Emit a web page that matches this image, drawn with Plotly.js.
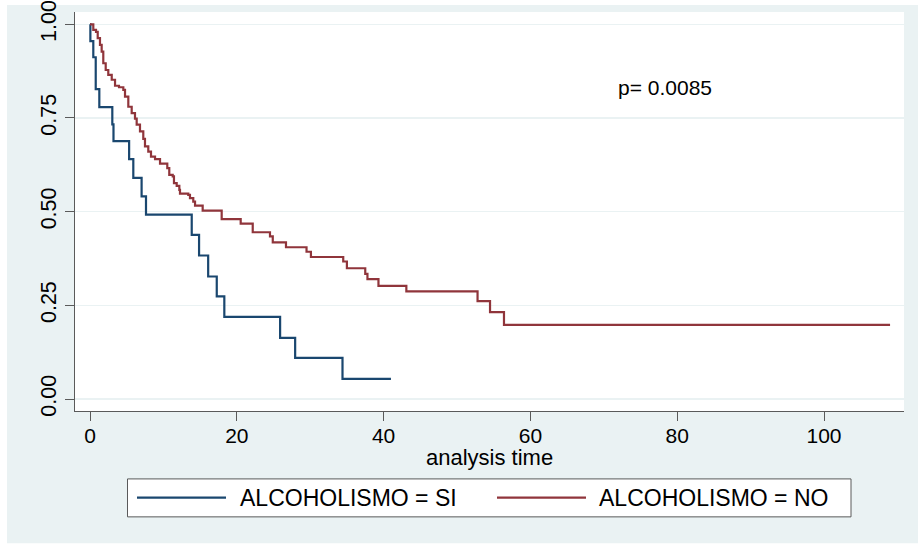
<!DOCTYPE html>
<html>
<head>
<meta charset="utf-8">
<script src="https://cdn.plot.ly/plotly-3.0.1.min.js"></script>
<style>html,body{margin:0;padding:0;background:#fff;}</style>
</head>
<body>
<div id="chart" style="width:918px;height:544px;"></div>
<script>
// Kaplan-Meier estimates
var tSi = [0, 0.05, 0.45, 0.78, 1.27, 3.04, 3.2, 5.33, 5.9, 7.03, 7.63, 13.86, 14.86, 16.1, 17.27, 18.3, 25.9, 27.95, 34.4, 41.0];
var sSi = [1, 0.955, 0.912, 0.827, 0.779, 0.733, 0.688, 0.640, 0.590, 0.541, 0.492, 0.438, 0.383, 0.327, 0.274, 0.219, 0.163, 0.110, 0.054, 0.054];

var tNo = [0, 0.45, 0.82, 1.05, 1.36, 1.59, 1.81, 2.14, 2.49, 2.96, 3.41, 3.95, 4.54, 4.77, 5.22, 5.68, 6.13, 6.36, 6.81, 7.26, 7.49, 7.94, 8.31, 8.86, 9.54, 10.53, 10.80, 11.27, 11.44, 11.81, 12.17, 12.26, 13.39, 13.62, 14.07, 14.31, 15.35, 17.94, 20.53, 22.17, 24.52, 24.9, 26.7, 29.5, 30.1, 34.5, 35.0, 37.5, 37.8, 39.3, 43.1, 52.8, 54.5, 56.4, 109.0];
var sNo = [1, 0.985, 0.980, 0.963, 0.945, 0.927, 0.896, 0.878, 0.865, 0.852, 0.836, 0.832, 0.825, 0.807, 0.780, 0.763, 0.748, 0.732, 0.714, 0.694, 0.674, 0.660, 0.647, 0.640, 0.628, 0.616, 0.598, 0.594, 0.576, 0.569, 0.558, 0.548, 0.545, 0.536, 0.527, 0.516, 0.503, 0.480, 0.468, 0.445, 0.434, 0.418, 0.405, 0.393, 0.379, 0.367, 0.349, 0.334, 0.320, 0.302, 0.287, 0.261, 0.232, 0.198, 0.198];

var seriesNames = ["ALCOHOLISMO = SI", "ALCOHOLISMO = NO"];
var xTickVals = [0, 20, 40, 60, 80, 100];
var xTickText = ["0", "20", "40", "60", "80", "100"];
var yTickVals = [0, 0.25, 0.5, 0.75, 1];
var yTickText = ["0.00", "0.25", "0.50", "0.75", "1.00"];
var pText = "p= 0.0085";
var xTitle = "analysis time";

var W = 918, H = 544;
var L = 75, R = 904, T = 12, B = 411.5;
function px(x) { return (x - L) / (R - L); }
function py(y) { return (B - y) / (B - T); }

var blue = "#1a476f", red = "#90353b", bg = "#eaf2f3", axc = "#5a5a5a";
var FONT = "Liberation Sans, Arial, sans-serif";

var traces = [
  {x: tSi, y: sSi, type: "scatter", mode: "lines", name: seriesNames[0],
   line: {color: blue, width: 2.2, shape: "hv"}, hoverinfo: "skip"},
  {x: tNo, y: sNo, type: "scatter", mode: "lines", name: seriesNames[1],
   line: {color: red, width: 2.2, shape: "hv"}, hoverinfo: "skip"}
];

var shapes = [
  {type: "rect", xref: "paper", yref: "paper", layer: "below",
   x0: px(7), x1: px(W), y0: py(H), y1: py(5), fillcolor: bg, line: {width: 0}},
  {type: "rect", xref: "paper", yref: "paper", layer: "below",
   x0: 0, x1: 1, y0: 0, y1: 1, fillcolor: "#ffffff", line: {width: 0}},
  {type: "rect", xref: "paper", yref: "paper",
   x0: px(127.5), x1: px(851), y0: py(517.5), y1: py(479.5),
   fillcolor: "#ffffff", line: {color: axc, width: 1}},
  {type: "line", xref: "paper", yref: "paper",
   x0: px(137), x1: px(226), y0: py(498.3), y1: py(498.3), line: {color: blue, width: 2.2}},
  {type: "line", xref: "paper", yref: "paper",
   x0: px(497), x1: px(586), y0: py(498.3), y1: py(498.3), line: {color: red, width: 2.2}}
];

var annotations = [
  {xref: "x", yref: "y", x: 78.3, y: 0.83, text: pText, showarrow: false,
   font: {family: FONT, size: 21, color: "#000"}, xanchor: "center", yanchor: "middle"},
  {xref: "paper", yref: "paper", x: 0.5, y: py(458), text: xTitle, showarrow: false,
   font: {family: FONT, size: 22, color: "#000"}, xanchor: "center", yanchor: "middle"},
  {xref: "paper", yref: "paper", x: px(238), y: py(498.5), text: seriesNames[0], showarrow: false,
   font: {family: FONT, size: 23, color: "#000"}, xanchor: "left", yanchor: "middle"},
  {xref: "paper", yref: "paper", x: px(597), y: py(498.5), text: seriesNames[1], showarrow: false,
   font: {family: FONT, size: 23, color: "#000"}, xanchor: "left", yanchor: "middle"}
];

var layout = {
  width: W, height: H,
  margin: {l: L, r: W - R, t: T, b: H - B, pad: 0},
  paper_bgcolor: "#ffffff",
  plot_bgcolor: "#ffffff",
  showlegend: false,
  font: {family: FONT, color: "#000"},
  xaxis: {
    range: [(L - 90) / 7.34, (R - 90) / 7.34],
    tickvals: xTickVals, ticktext: xTickText,
    ticks: "outside", ticklen: 9, tickcolor: axc, tickwidth: 1,
    ticklabelstandoff: -3,
    showline: true, linecolor: axc, linewidth: 1,
    showgrid: false, zeroline: false,
    tickfont: {family: FONT, size: 21, color: "#000"},
    automargin: false
  },
  yaxis: {
    range: [-(B - 399.5) / 375.2, 1 + (24.3 - T) / 375.2],
    tickvals: yTickVals, ticktext: yTickText,
    ticks: "outside", ticklen: 9, tickcolor: axc, tickwidth: 1,
    tickangle: -90,
    showline: true, linecolor: axc, linewidth: 1,
    showgrid: true, gridcolor: bg, gridwidth: 1.5,
    zeroline: false,
    tickfont: {family: FONT, size: 21.5, color: "#000"},
    automargin: false
  },
  shapes: shapes,
  annotations: annotations
};

Plotly.newPlot("chart", traces, layout, {staticPlot: true, displayModeBar: false});
</script>
</body>
</html>
